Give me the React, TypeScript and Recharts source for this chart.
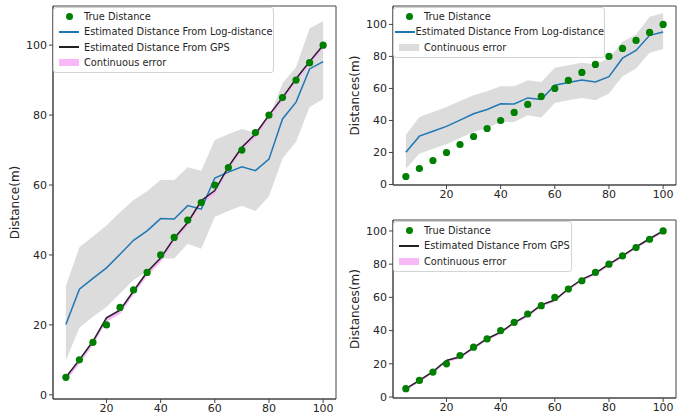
import React from "react";
import {
  ComposedChart,
  Area,
  Line,
  XAxis,
  YAxis,
  ReferenceArea,
} from "recharts";

// distances (m) along the path
const positions = [5, 10, 15, 20, 25, 30, 35, 40, 45, 50, 55, 60, 65, 70, 75, 80, 85, 90, 95, 100];
const trueDist = [5, 10, 15, 20, 25, 30, 35, 40, 45, 50, 55, 60, 65, 70, 75, 80, 85, 90, 95, 100];

// log-distance estimate + its error band
const logDist = [20.1, 30.2, 33.3, 36.3, 40.2, 44.2, 46.9, 50.4, 50.3, 54.1, 53.1, 62.0, 63.7, 65.2, 64.1, 67.4, 78.9, 83.7, 93.2, 95.3];
const logLow = [9.8, 19.2, 22.3, 25.1, 29.0, 32.8, 35.3, 39.0, 39.0, 43.2, 41.8, 50.9, 52.6, 54.1, 52.6, 56.8, 67.6, 72.4, 82.3, 84.6];
const logHigh = [31.1, 42.2, 45.3, 48.4, 52.2, 55.7, 58.2, 61.4, 61.4, 65.1, 64.1, 72.9, 74.5, 76.0, 74.9, 79.1, 89.1, 93.7, 104.8, 106.9];

// GPS estimate + its error band
const gpsDist = [5.0, 10.0, 15.3, 22.0, 24.2, 29.7, 35.1, 39.1, 44.8, 49.3, 55.5, 58.4, 65.2, 70.8, 74.6, 80.0, 85.0, 90.4, 95.3, 100.0];
const gpsLow = [3.8, 8.9, 14.2, 20.9, 23.1, 28.6, 34.0, 38.0, 43.7, 48.2, 54.4, 57.3, 64.1, 69.7, 73.5, 78.9, 83.9, 89.3, 94.2, 98.9];
const gpsHigh = [5.4, 10.4, 15.7, 22.4, 24.6, 30.1, 35.5, 39.5, 45.2, 49.7, 55.9, 58.8, 65.6, 71.2, 75.0, 80.4, 85.4, 90.8, 95.7, 100.4];

const xTicks = [20, 40, 60, 80, 100];
const yTicks = [0, 20, 40, 60, 80, 100];

const data = positions.map((x, i) => ({
  x,
  truth: trueDist[i],
  log: logDist[i],
  logBand: [logLow[i], logHigh[i]],
  gps: gpsDist[i],
  gpsBand: [gpsLow[i], gpsHigh[i]],
}));

const FONT = "DejaVu Sans, sans-serif";
const AXIS = "#444";
const TXT = "#262626";
const GREEN = "#008000";
const BLUE = "#1f77b4";
const GRAY = "#dcdcdc";
const PINK = "#f8b8f8";

type Item = { label: string; kind: "dot" | "line" | "patch"; color: string };

const LegendBox = ({ items, width }: { items: Item[]; width: number }) => (
  <div
    style={{
      position: "absolute",
      left: 53,
      top: 7,
      width,
      border: "1px solid #d4d4d4",
      borderRadius: 3,
      background: "rgba(255,255,255,0.85)",
      padding: "1px 0 2px 0",
      fontFamily: FONT,
      fontSize: 9.8,
      color: TXT,
      boxSizing: "border-box",
    }}
  >
    {items.map((it) => (
      <div key={it.label} style={{ display: "flex", alignItems: "center", height: 15.3 }}>
        <div style={{ width: 30, display: "flex", justifyContent: "center", alignItems: "center" }}>
          {it.kind === "dot" && (
            <div style={{ width: 7, height: 7, borderRadius: "50%", background: it.color }} />
          )}
          {it.kind === "line" && <div style={{ width: 20, height: 1.5, background: it.color }} />}
          {it.kind === "patch" && <div style={{ width: 20, height: 7, background: it.color }} />}
        </div>
        <span style={{ whiteSpace: "nowrap" }}>{it.label}</span>
      </div>
    ))}
  </div>
);

// green markers for the true distance (drawn under the estimate lines)
const dot = (p: any) => <circle key={p.index} cx={p.cx} cy={p.cy} r={3.6} fill={GREEN} />;

type PanelProps = {
  left: number;
  top: number;
  height: number;
  yDomain: [number, number];
  yLabel: string;
  showLog: boolean;
  showGps: boolean;
  legendWidth: number;
};

const Panel = ({ left, top, height, yDomain, yLabel, showLog, showGps, legendWidth }: PanelProps) => {
  const items: Item[] = [{ label: "True Distance", kind: "dot", color: GREEN }];
  if (showLog) items.push({ label: "Estimated Distance From Log-distance", kind: "line", color: BLUE });
  if (showGps) items.push({ label: "Estimated Distance From GPS", kind: "line", color: "#222" });
  if (showLog && !showGps) items.push({ label: "Continuous error", kind: "patch", color: GRAY });
  else items.push({ label: "Continuous error", kind: "patch", color: PINK });

  return (
    <div style={{ position: "absolute", left, top, width: 340, height }}>
      <ComposedChart
        width={340}
        height={height}
        data={data}
        margin={{ top: 6, right: 4, bottom: 0, left: 0 }}
      >
        <XAxis
          dataKey="x"
          type="number"
          domain={[0.25, 104.75]}
          ticks={xTicks}
          allowDataOverflow
          height={18}
          tickSize={4}
          tickMargin={1}
          stroke={AXIS}
          tick={{ fill: TXT, fontSize: 11, fontFamily: FONT }}
        />
        <YAxis
          type="number"
          domain={yDomain}
          ticks={yTicks}
          allowDataOverflow
          width={53}
          tickSize={4}
          tickMargin={2}
          stroke={AXIS}
          tick={{ fill: TXT, fontSize: 11, fontFamily: FONT }}
          label={{
            value: yLabel,
            angle: -90,
            position: "insideLeft",
            offset: 15,
            style: { textAnchor: "middle", fill: TXT, fontSize: 12, fontFamily: FONT },
          }}
        />
        {showLog && (
          <Area dataKey="logBand" type="linear" stroke="none" fill={GRAY} fillOpacity={1} isAnimationActive={false} dot={false} activeDot={false} />
        )}
        {showGps && (
          <Area dataKey="gpsBand" type="linear" stroke="none" fill={PINK} fillOpacity={1} isAnimationActive={false} dot={false} activeDot={false} />
        )}
        <Line dataKey="truth" type="linear" stroke="none" dot={dot} activeDot={false} isAnimationActive={false} />
        {showLog && (
          <Line dataKey="log" type="linear" stroke={BLUE} strokeWidth={1.5} dot={false} isAnimationActive={false} />
        )}
        {showGps && (
          <Line dataKey="gps" type="linear" stroke="#222" strokeWidth={1.5} dot={false} isAnimationActive={false} />
        )}
        <ReferenceArea x1={0.25} x2={104.75} y1={yDomain[0]} y2={yDomain[1]} fill="none" stroke={AXIS} strokeWidth={1} />
      </ComposedChart>
      <LegendBox items={items} width={legendWidth} />
    </div>
  );
};

export default function App() {
  return (
    <div style={{ position: "absolute", left: 0, top: 0, width: 699, height: 417, background: "#fff" }}>
      <Panel left={0} top={0} height={417} yDomain={[-1.2, 111.2]} yLabel="Distance(m)" showLog showGps legendWidth={221} />
      <Panel left={340} top={0} height={203} yDomain={[-0.3, 111.5]} yLabel="Distances(m)" showLog showGps={false} legendWidth={212} />
      <Panel left={340} top={214} height={202} yDomain={[-0.6, 106.6]} yLabel="Distances(m)" showLog={false} showGps legendWidth={179} />
    </div>
  );
}
